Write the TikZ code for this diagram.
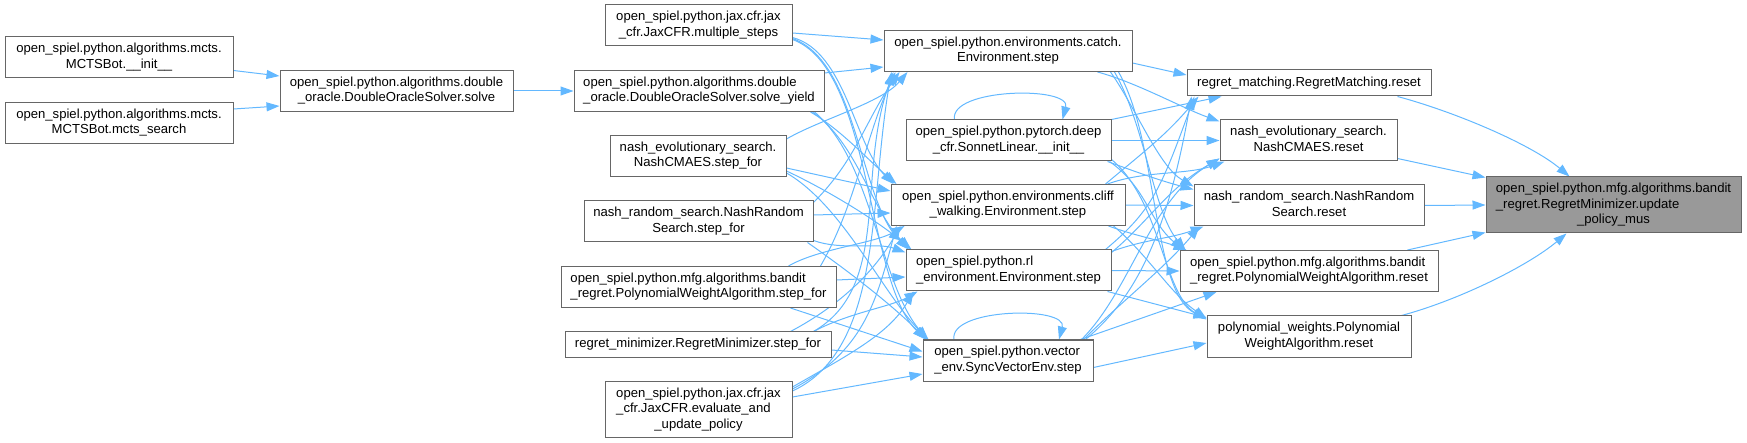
\documentclass[tikz,border=0pt]{standalone}
\usepackage{fontspec}
\setmainfont{Liberation Sans}
\usetikzlibrary{arrows.meta,calc}
\definecolor{eblue}{HTML}{63B8FF}
\definecolor{nborder}{HTML}{666666}
\definecolor{tfill}{HTML}{999999}
\newcommand\nf{\fontsize{13.1}{15.5}\selectfont}
\newcommand\twol[2]{\begin{tabular}{@{}l@{}}#1\\\multicolumn{1}{@{}c@{}}{#2}\end{tabular}}
\newcommand\threel[3]{\begin{tabular}{@{}l@{}}#1\\#2\\\multicolumn{1}{@{}c@{}}{#3}\end{tabular}}
\newcommand\EdgeS[4]{\draw[conn] ($(#1)+(#2)$) -- ($(#3)+(#4)$);}
\newcommand\EdgeC[6]{\draw[conn] ($(#1)+(#2)$) .. controls +(#3) and +(#4) .. ($(#5)+(#6)$);}
\pgfdeclarelayer{bg}
\pgfsetlayers{bg,main}
\begin{document}
\begin{tikzpicture}[x=1pt,y=1pt,
  nbox/.style={draw=nborder,fill=white,line width=1pt,inner sep=0pt,font=\nf,rectangle},
  tbox/.style={nbox,fill=tfill},
  conn/.style={draw=eblue,line width=1pt,-{Triangle[length=13pt,width=9pt]}}]
\useasboundingbox (0,0) rectangle (1747,-443);

% left
\node[nbox,minimum width=228pt,minimum height=41pt] (A1) at (119,-57.5) {\twol{open\_spiel.python.algorithms.mcts.}{MCTSBot.\_\_init\_\_}};
\node[nbox,minimum width=228pt,minimum height=41pt] (A2) at (119,-123) {\twol{open\_spiel.python.algorithms.mcts.}{MCTSBot.mcts\_search}};
\node[nbox,minimum width=233pt,minimum height=41pt] (B) at (396.5,-91) {\twol{open\_spiel.python.algorithms.double}{\_oracle.DoubleOracleSolver.solve}};
% column C
\node[nbox,minimum width=187pt,minimum height=41pt] (C1) at (698.5,-25.5) {\twol{open\_spiel.python.jax.cfr.jax}{\_cfr.JaxCFR.multiple\_steps}};
\node[nbox,minimum width=250pt,minimum height=41pt] (C2) at (699,-91) {\twol{open\_spiel.python.algorithms.double}{\_oracle.DoubleOracleSolver.solve\_yield}};
\node[nbox,minimum width=176pt,minimum height=41pt] (C3) at (698,-156) {\twol{nash\_evolutionary\_search.}{NashCMAES.step\_for}};
\node[nbox,minimum width=229pt,minimum height=41pt] (C4) at (698.5,-221.5) {\twol{nash\_random\_search.NashRandom}{Search.step\_for}};
\node[nbox,minimum width=275pt,minimum height=41pt] (C5) at (698.5,-287) {\twol{open\_spiel.python.mfg.algorithms.bandit}{\_regret.PolynomialWeightAlgorithm.step\_for}};
\node[nbox,minimum width=266pt,minimum height=25pt] (C6) at (698,-344.5) {regret\_minimizer.RegretMinimizer.step\_for};
\node[nbox,minimum width=187pt,minimum height=56pt] (C7) at (698.5,-409.5) {\threel{open\_spiel.python.jax.cfr.jax}{\_cfr.JaxCFR.evaluate\_and}{\_update\_policy}};
% column D
\node[nbox,minimum width=248pt,minimum height=41pt] (D1) at (1008,-51) {\twol{open\_spiel.python.environments.catch.}{Environment.step}};
\node[nbox,minimum width=205pt,minimum height=41pt] (D2) at (1008.5,-140.5) {\twol{open\_spiel.python.pytorch.deep}{\_cfr.SonnetLinear.\_\_init\_\_}};
\node[nbox,minimum width=234pt,minimum height=41pt] (D3) at (1008,-205) {\twol{open\_spiel.python.environments.cliff}{\_walking.Environment.step}};
\node[nbox,minimum width=205pt,minimum height=41pt] (D4) at (1008.5,-270.5) {\twol{open\_spiel.python.rl}{\_environment.Environment.step}};
\node[nbox,minimum width=170pt,minimum height=41pt] (D5) at (1008,-360.5) {\twol{open\_spiel.python.vector}{\_env.SyncVectorEnv.step}};
% column E
\node[nbox,minimum width=244pt,minimum height=26pt] (E1) at (1309,-83) {regret\_matching.RegretMatching.reset};
\node[nbox,minimum width=177pt,minimum height=41pt] (E2) at (1308.5,-140.5) {\twol{nash\_evolutionary\_search.}{NashCMAES.reset}};
\node[nbox,minimum width=230pt,minimum height=41pt] (E3) at (1309,-205.5) {\twol{nash\_random\_search.NashRandom}{Search.reset}};
\node[nbox,minimum width=258pt,minimum height=41pt] (E4) at (1309,-271) {\twol{open\_spiel.python.mfg.algorithms.bandit}{\_regret.PolynomialWeightAlgorithm.reset}};
\node[nbox,minimum width=204pt,minimum height=41pt] (E5) at (1309,-336.5) {\twol{polynomial\_weights.Polynomial}{WeightAlgorithm.reset}};
% target
\node[tbox,minimum width=255pt,minimum height=56pt] (F) at (1613.5,-205) {\threel{open\_spiel.python.mfg.algorithms.bandit}{\_regret.RegretMinimizer.update}{\_policy\_mus}};

\begin{pgfonlayer}{bg}
% left part
\EdgeS{A1.east}{0,-13}{B.west}{0,15}
\EdgeS{A2.east}{0,14}{B.west}{0,-15}
\EdgeS{B.east}{0,0}{C2.west}{0,0}
% C -> D straight
\EdgeS{C1.east}{0,-7.5}{D1.west}{0,11}
\EdgeS{C2.east}{0,18}{D1.west}{0,-16}
\EdgeS{C3.east}{0,-12}{D3.west}{0,14}
\EdgeS{C4.east}{0,6.5}{D3.west}{0,-8}
\EdgeS{C5.east}{0,7}{D4.west}{0,-6.5}
\EdgeS{C6.east}{0,-5.5}{D5.west}{0,3.5}
\EdgeS{C7.east}{0,12.5}{D5.west}{0,-13.5}
\EdgeS{C5.south east}{-46,0}{D5.west}{0,9}
% C -> D downward
\EdgeC{C1.south east}{0,9}{-15:55}{135:55}{D3.north west}{3,0}
\EdgeC{C1.south east}{0,8}{-20:70}{135:70}{D4.north west}{3,0}
\EdgeC{C1.south east}{0,7}{-20:85}{135:85}{D5.north west}{3,0}
\EdgeC{C2.south east}{-14,0}{-30:35}{140:35}{D3.north west}{6,0}
\EdgeC{C2.south east}{-12,0}{-35:55}{135:55}{D4.north west}{5,0}
\EdgeC{C2.south east}{-10,0}{-40:75}{130:75}{D5.north west}{5,0}
\EdgeC{C3.south east}{0,6}{-25:45}{140:45}{D4.north west}{6,0}
\EdgeC{C3.south east}{0,4}{-30:65}{135:65}{D5.north west}{6,0}
\EdgeC{C4.south east}{0,2}{-20:30}{160:30}{D4.north west}{0,-3}
\EdgeC{C4.south east}{-6,0}{-35:50}{135:50}{D5.north west}{4,0}
% C -> D upward
\EdgeC{C3.north east}{0,-4}{30:40}{-130:40}{D1.south west}{24,0}
\EdgeC{C4.north east}{0,-2}{45:60}{-125:60}{D1.south west}{16,0}
\EdgeC{C5.north east}{-16,0}{60:70}{-115:70}{D1.south west}{12,0}
\EdgeC{C6.north east}{-18,0}{30:90}{-110:110}{D1.south west}{10,0}
\EdgeC{C7.north east}{0,-10}{25:100}{-100:130}{D1.south west}{8,0}
\EdgeC{C5.north east}{-48,0}{30:35}{-150:35}{D3.south west}{14,0}
\EdgeC{C6.north east}{-41,0}{28:60}{-120:50}{D3.south west}{10,0}
\EdgeC{C7.north east}{0,-8}{28:80}{-105:80}{D3.south west}{6,0}
\EdgeC{C6.north east}{-18,0}{28:40}{-150:30}{D4.south west}{12,0}
\EdgeC{C7.north east}{0,-6}{30:60}{-120:50}{D4.south west}{8,0}
% D -> E straight
\EdgeS{D1.east}{0,-12}{E1.west}{0,8}
\EdgeS{D2.east}{0,0}{E2.west}{0,0}
\EdgeS{D3.east}{0,0}{E3.west}{0,0}
\EdgeS{D4.east}{0,0}{E4.west}{0,0}
\EdgeS{D5.east}{0,-7}{E5.west}{0,-6.5}
\EdgeS{D4.south east}{-4,0}{E5.north west}{0,-2}
\EdgeS{D5.north east}{-13,0}{E4.south west}{37,0}
\EdgeS{D2.north east}{0,0}{E1.south west}{35,0}
% D -> E gentle curves
\EdgeC{D1.south east}{-35,0}{-15:40}{160:40}{E2.north west}{0,-2}
\EdgeC{D2.south east}{-4,0}{-20:35}{165:35}{E3.north west}{0,-5}
\EdgeC{D3.south east}{-17,0}{-20:30}{160:30}{E4.north west}{7,0}
\EdgeC{D3.north east}{-18,0}{20:40}{-160:40}{E2.south west}{5,0}
\EdgeC{D4.north east}{0,-2}{20:35}{-160:35}{E3.south west}{10,0}
% D -> E long curves
\EdgeC{D1.south east}{-22,0}{-55:45}{150:40}{E3.north west}{0,-2}
\EdgeC{D1.south east}{-18,0}{-60:60}{130:50}{E4.north west}{6,0}
\EdgeC{D1.south east}{-14,0}{-60:80}{155:60}{E5.north west}{0,-3}
\EdgeC{D2.south east}{-2,0}{-35:45}{140:45}{E4.north west}{4,0}
\EdgeC{D2.south east}{0,2}{-40:65}{150:50}{E5.north west}{0,-4}
\EdgeC{D3.north east}{-20,0}{40:50}{-130:50}{E1.south west}{12,0}
\EdgeC{D3.south east}{-12,0}{-40:45}{145:45}{E5.north west}{0,-3}
\EdgeC{D4.north east}{-6,0}{40:60}{-110:100}{E1.south west}{8,0}
\EdgeC{D4.north east}{0,-3}{40:50}{-150:60}{E2.south west}{0,3}
\EdgeC{D5.north east}{-8,0}{40:60}{-100:150}{E1.south west}{5,0}
\EdgeC{D5.north east}{-12,0}{45:70}{-149:82}{E2.south west}{0,3}
\EdgeC{D5.north east}{-10,0}{45:55}{-130:55}{E3.south west}{6,0}
% E -> F
\EdgeC{E1.south east}{-34,0}{-15:60}{140:50}{F.north}{-44,0}
\EdgeS{E2.east}{0,-18}{F.north west}{0,-1}
\EdgeS{E3.east}{0,0}{F.west}{0,0}
\EdgeS{E4.north east}{-31,0}{F.south west}{0,1}
\EdgeC{E5.north east}{-10,0}{15:60}{-140:50}{F.south}{-47,0}
% self loops
\EdgeC{D2.north}{-54,0}{100:32}{75:35}{D2.north}{54,0}
\EdgeC{D5.north}{-54,0}{100:32}{75:35}{D5.north}{51,0}
\end{pgfonlayer}
\end{tikzpicture}
\end{document}
